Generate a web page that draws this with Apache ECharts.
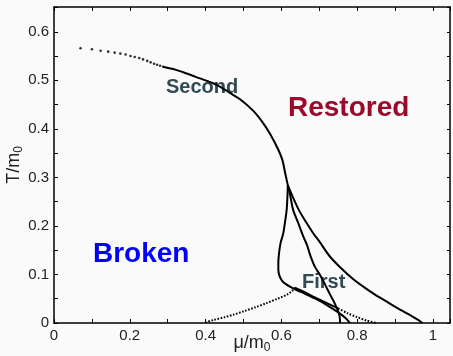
<!DOCTYPE html>
<html>
<head>
<meta charset="utf-8">
<script src="https://cdn.jsdelivr.net/npm/echarts@6/dist/echarts.min.js"></script>
<style>
	html, body { margin: 0; padding: 0; background: #fafafa; }
	#phase { width: 453px; height: 356px; }
</style>
</head>
<body>
<div id="phase"></div>
<script>
// second order line, sparse dots at the left end
var secondDotsX = [0.070, 0.100, 0.123, 0.143, 0.160, 0.175, 0.189, 0.202, 0.213, 0.225, 0.235, 0.246, 0.255, 0.264, 0.272, 0.280, 0.288];
var secondDotsY = [0.566, 0.564, 0.561, 0.559, 0.557, 0.555, 0.553, 0.550, 0.548, 0.546, 0.543, 0.540, 0.537, 0.534, 0.532, 0.530, 0.528];

// second order line, dense part down to the branch point
var secondX = [0.288, 0.320, 0.350, 0.385, 0.420, 0.440, 0.464, 0.491, 0.526, 0.550, 0.570, 0.592, 0.603, 0.610, 0.617];
var secondY = [0.528, 0.522, 0.514, 0.504, 0.494, 0.486, 0.474, 0.461, 0.437, 0.414, 0.390, 0.357, 0.335, 0.309, 0.284];

// three branches below the branch point
var branchAX = [0.617, 0.616, 0.614, 0.610, 0.605, 0.598, 0.594, 0.592, 0.592, 0.595, 0.602, 0.612, 0.625, 0.640, 0.660, 0.690, 0.720, 0.750, 0.770, 0.781];
var branchAY = [0.284, 0.260, 0.233, 0.210, 0.185, 0.165, 0.145, 0.125, 0.110, 0.097, 0.087, 0.080, 0.074, 0.068, 0.061, 0.050, 0.037, 0.022, 0.010, 0.000];

var branchBX = [0.617, 0.624, 0.631, 0.645, 0.658, 0.668, 0.676, 0.689, 0.702, 0.716, 0.729, 0.741, 0.750, 0.754, 0.755];
var branchBY = [0.284, 0.260, 0.233, 0.205, 0.178, 0.160, 0.140, 0.115, 0.099, 0.078, 0.058, 0.040, 0.024, 0.012, 0.000];

var branchCX = [0.617, 0.630, 0.646, 0.665, 0.684, 0.702, 0.728, 0.755, 0.790, 0.816, 0.850, 0.878, 0.905, 0.940, 0.962, 0.972];
var branchCY = [0.284, 0.260, 0.233, 0.208, 0.185, 0.166, 0.137, 0.115, 0.090, 0.075, 0.057, 0.044, 0.031, 0.016, 0.006, 0.000];

// dotted spinodal from the axis up to the cusp
var spinX = [0.399, 0.420, 0.450, 0.473, 0.500, 0.530, 0.561, 0.590, 0.614, 0.628, 0.636];
var spinY = [0.001, 0.006, 0.012, 0.017, 0.024, 0.032, 0.041, 0.050, 0.058, 0.066, 0.073];

// line from the cusp back to the axis
var metaX = [0.636, 0.660, 0.690, 0.720, 0.750];
var metaY = [0.073, 0.064, 0.052, 0.041, 0.030];
var metaDotX = [0.750, 0.775, 0.800, 0.825, 0.852];
var metaDotY = [0.030, 0.020, 0.012, 0.005, 0.000];

function pairs(xs, ys) {
	var out = [];
	for (var i = 0; i < xs.length; i++) {
		out.push([xs[i], ys[i]]);
	}
	return out;
}

function tickLabel(step, top) {
	return function(v) {
		var k = Math.round(v / step);
		if (Math.abs(v - k * step) > 1e-6 || v > top + 1e-6) return '';
		return String(Number(v.toFixed(1)));
	};
}

var fontFamily = 'Liberation Sans, Arial, sans-serif';

function solid(data) {
	return {
		type: 'line',
		data: data,
		showSymbol: false,
		smooth: 0.3,
		silent: true,
		lineStyle: { color: '#000', width: 2 },
		xAxisIndex: 0,
		yAxisIndex: 0
	};
}

function dotted(data) {
	return {
		type: 'line',
		data: data,
		showSymbol: false,
		smooth: 0.3,
		silent: true,
		lineStyle: { color: '#000', width: 2, type: [1.6, 1.6], cap: 'butt' },
		xAxisIndex: 0,
		yAxisIndex: 0
	};
}

var axisBase = {
	axisLine: { show: true, onZero: false, lineStyle: { color: '#000', width: 1.5 } },
	axisTick: { show: true, inside: true, length: 4, lineStyle: { color: '#000', width: 1 } },
	splitLine: { show: false }
};

var nameRich = {
	t: { fontSize: 18, color: '#222', fontFamily: fontFamily },
	s: { fontSize: 12, color: '#222', fontFamily: fontFamily, padding: [10, 0, 0, 0] }
};

var phaseOption = {
	backgroundColor: '#fafafa',
	animation: false,
	grid: {
		left: 54,
		right: 3,
		top: 7,
		bottom: 33,
		containLabel: false,
		outerBoundsMode: 'none'
	},
	xAxis: [{
		type: 'value',
		position: 'bottom',
		min: 0,
		max: 1.045,
		interval: 0.1,
		axisLine: axisBase.axisLine,
		axisTick: axisBase.axisTick,
		splitLine: axisBase.splitLine,
		axisLabel: {
			margin: 5,
			color: '#222',
			fontSize: 15,
			fontFamily: fontFamily,
			formatter: tickLabel(0.2, 1.0)
		},
		name: '{t|μ/m}{s|0}',
		nameLocation: 'middle',
		nameGap: 9,
		nameMoveOverlap: false,
		nameTextStyle: { rich: nameRich }
	}, {
		type: 'value',
		position: 'top',
		min: 0,
		max: 1.045,
		interval: 0.1,
		axisLine: axisBase.axisLine,
		axisTick: axisBase.axisTick,
		splitLine: axisBase.splitLine,
		axisLabel: { show: false }
	}],
	yAxis: [{
		type: 'value',
		position: 'left',
		min: 0,
		max: 0.651,
		interval: 0.05,
		axisLine: axisBase.axisLine,
		axisTick: axisBase.axisTick,
		splitLine: axisBase.splitLine,
		axisLabel: {
			margin: 5,
			color: '#222',
			fontSize: 15,
			fontFamily: fontFamily,
			formatter: tickLabel(0.1, 0.6)
		},
		name: '{t|T/m}{s|0}',
		nameLocation: 'middle',
		nameRotate: 90,
		nameGap: 29,
		nameMoveOverlap: false,
		nameTextStyle: { rich: nameRich }
	}, {
		type: 'value',
		position: 'right',
		min: 0,
		max: 0.651,
		interval: 0.05,
		axisLine: axisBase.axisLine,
		axisTick: { show: true, inside: true, length: 3, lineStyle: { color: '#000', width: 1 } },
		splitLine: axisBase.splitLine,
		axisLabel: { show: false }
	}],
	graphic: [{
		type: 'text', x: 166, y: 87,
		style: { text: 'Second', fill: '#2f4a52', font: 'bold 20px ' + fontFamily, verticalAlign: 'middle' }
	}, {
		type: 'text', x: 288, y: 108,
		style: { text: 'Restored', fill: '#9b0a2b', font: 'bold 28px ' + fontFamily, verticalAlign: 'middle' }
	}, {
		type: 'text', x: 93, y: 254,
		style: { text: 'Broken', fill: '#0000ff', font: 'bold 28px ' + fontFamily, verticalAlign: 'middle' }
	}, {
		type: 'text', x: 302, y: 282,
		style: { text: 'First', fill: '#2f4a52', font: 'bold 20px ' + fontFamily, verticalAlign: 'middle' }
	}],
	series: [{
		type: 'scatter',
		data: pairs(secondDotsX, secondDotsY),
		symbolSize: 2.6,
		silent: true,
		itemStyle: { color: '#000' }
	},
		solid(pairs(secondX, secondY)),
		solid(pairs(branchAX, branchAY)),
		solid(pairs(branchBX, branchBY)),
		solid(pairs(branchCX, branchCY)),
		dotted(pairs(spinX, spinY)),
		solid(pairs(metaX, metaY)),
		dotted(pairs(metaDotX, metaDotY))
	]
};

var phase = echarts.init(document.getElementById('phase'));
phase.setOption(phaseOption);
</script>
</body>
</html>
